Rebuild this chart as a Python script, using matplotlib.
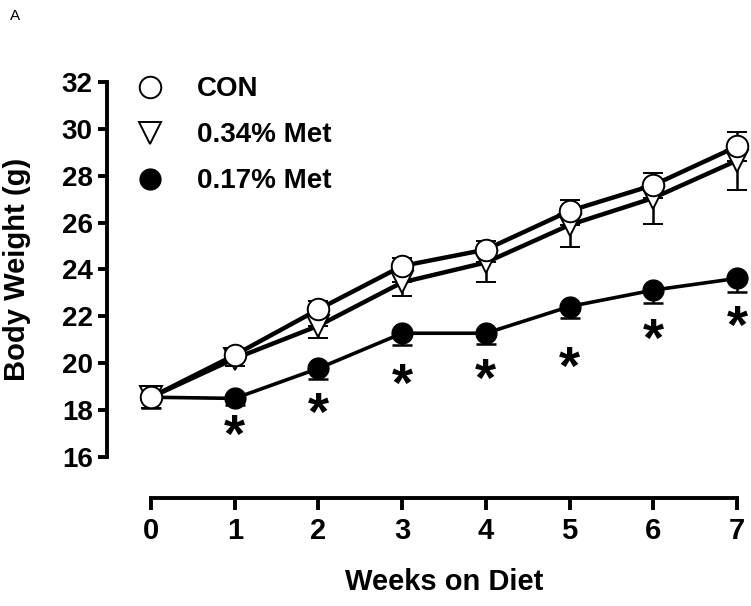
import matplotlib.pyplot as plt
from matplotlib.lines import Line2D
import numpy as np

# weeks on diet
weeks = [0, 1, 2, 3, 4, 5, 6, 7]

# mean body weight (g)
con_mean = [18.55, 20.35, 22.3, 24.15, 24.85, 26.5, 27.6, 29.25]
met34_mean = [18.55, 20.2, 21.6, 23.45, 24.3, 25.9, 27.05, 28.65]
met17_mean = [18.55, 18.5, 19.78, 21.28, 21.28, 22.42, 23.12, 23.62]

# SEM (CON drawn upward, Met groups drawn downward)
con_sem = [0.5, 0.3, 0.35, 0.35, 0.35, 0.48, 0.52, 0.6]
met34_sem = [0.45, 0.3, 0.54, 0.6, 0.84, 0.93, 1.1, 1.25]
met17_sem = [0.45, 0.3, 0.47, 0.5, 0.46, 0.5, 0.57, 0.6]

# where the significance stars sit (vs CON)
star_y = [None, 17.25, 18.2, 19.45, 19.65, 20.15, 21.35, 21.9]

labels = ["CON", "0.34% Met", "0.17% Met"]

plt.rcParams['font.family'] = ['Liberation Sans', 'DejaVu Sans']
plt.rcParams['font.weight'] = 'bold'

fig = plt.figure(figsize=(7.51, 6.06), dpi=100)
ax = fig.add_axes([0.2011, 0.2459, 0.7803, 0.6188])

w = np.array(weeks)
zero = np.zeros(len(weeks))

# 0.17% Met (filled circles, lower bars)
ax.errorbar(w, met17_mean, yerr=[met17_sem, zero], fmt='-o', color='black',
            lw=2.6, ms=15, mfc='black', mec='black', ecolor='black',
            elinewidth=1.8, capsize=7, capthick=1.8, clip_on=False, zorder=3)
# 0.34% Met (open down triangles, lower bars)
ax.errorbar(w, met34_mean, yerr=[met34_sem, zero], fmt='-v', color='black',
            lw=3.2, ms=15.5, mfc='white', mec='black', mew=1.4, ecolor='black',
            elinewidth=1.8, capsize=7, capthick=1.8, clip_on=False, zorder=4)
# CON (open circles, upper bars)
ax.errorbar(w, con_mean, yerr=[zero, con_sem], fmt='-o', color='black',
            lw=3.2, ms=15.5, mfc='white', mec='black', mew=1.4, ecolor='black',
            elinewidth=1.8, capsize=7, capthick=1.8, clip_on=False, zorder=5)

# asterisk glyph sits high in its box, so nudge it down
for x, y in zip(weeks, star_y):
    if y is not None:
        ax.annotate('*', (x, y), xytext=(0, -7.5), textcoords='offset points',
                    ha='center', va='center', fontsize=39,
                    fontweight='bold', zorder=6, annotation_clip=False)

ax.set_xlim(0, 7)
ax.set_ylim(16, 32)
ax.set_xticks(weeks)
ax.set_yticks(np.arange(16, 33, 2))

for s in ['top', 'right']:
    ax.spines[s].set_visible(False)
ax.spines['left'].set_position(('outward', 32))
ax.spines['bottom'].set_position(('outward', 29.5))
ax.spines['left'].set_linewidth(2.8)
ax.spines['bottom'].set_linewidth(2.8)
ax.tick_params(axis='y', length=6.5, width=2.8, labelsize=20, pad=3.5)
ax.tick_params(axis='x', length=8.5, width=2.8, labelsize=21, pad=5)
for t in ax.get_xticklabels() + ax.get_yticklabels():
    t.set_fontweight('bold')

ax.set_xlabel('Weeks on Diet', fontsize=21, fontweight='bold')
ax.set_ylabel('Body Weight (g)', fontsize=21, fontweight='bold')
ax.xaxis.set_label_coords(0.5, -0.295)
ax.yaxis.set_label_coords(-0.205, 0.5)

handles = [
    Line2D([], [], ls='none', marker='o', ms=15.5, mfc='white', mec='black', mew=1.4),
    Line2D([], [], ls='none', marker='v', ms=15.5, mfc='white', mec='black', mew=1.4),
    Line2D([], [], ls='none', marker='o', ms=15, mfc='black', mec='black'),
]
ax.legend(handles, labels, loc='upper left', bbox_to_anchor=(-0.026, 1.015),
          frameon=False, borderpad=0, borderaxespad=0, handlelength=1.0,
          handletextpad=1.2, labelspacing=0.72,
          prop={'size': 20, 'weight': 'bold'})

fig.text(0.013, 0.985, 'A', fontsize=11, fontweight='normal', va='top', ha='left')

fig.savefig('out.png', dpi=100)
